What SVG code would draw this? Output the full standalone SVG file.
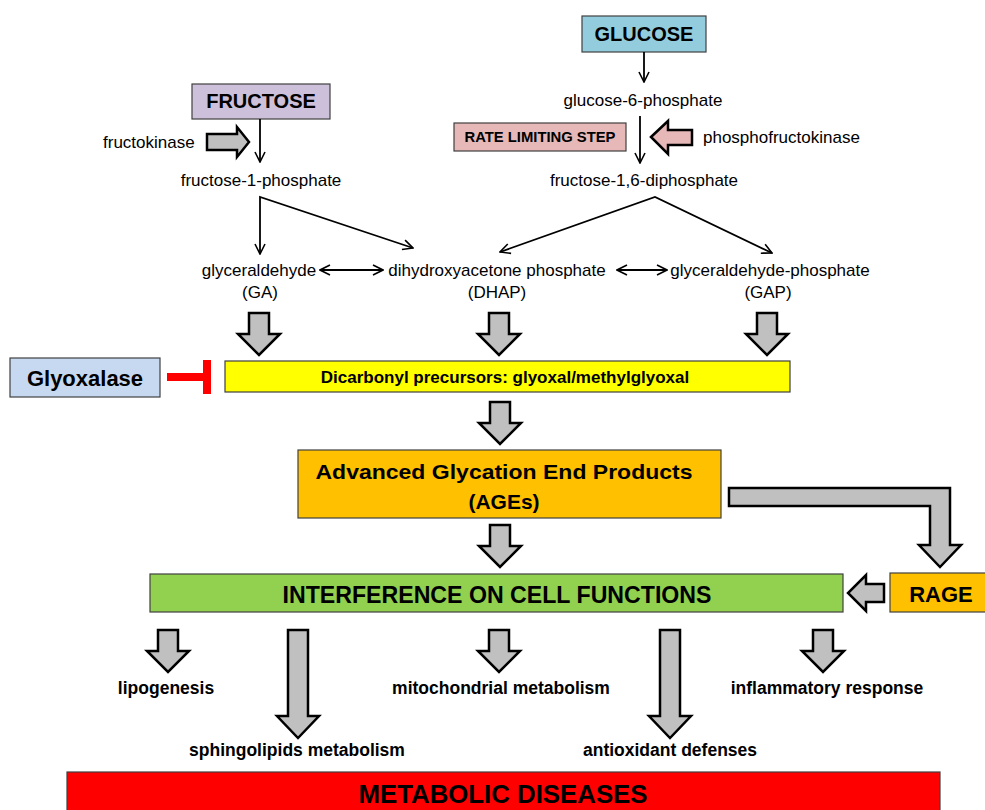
<svg xmlns="http://www.w3.org/2000/svg" width="985" height="810" viewBox="0 0 985 810">
<defs>
<marker id="ah" viewBox="0 0 12 12" refX="11" refY="6" markerWidth="12" markerHeight="12" markerUnits="userSpaceOnUse" orient="auto-start-reverse">
<path d="M1,1 L11,6 L1,11" fill="none" stroke="#000" stroke-width="1.6"/>
</marker>
<style>
.box{stroke:#404040;stroke-width:1.2}
.ln{fill:none;stroke:#000;stroke-width:1.8}
.blk{fill:#c0c0c0;stroke:#000;stroke-width:2.5;stroke-linejoin:miter}
.t{font-family:"Liberation Sans",Arial,sans-serif;fill:#000}
.n{font-size:17px}
.bt{font-weight:bold}
.lab{font-size:17.5px;font-weight:bold}
</style>
</defs>
<rect width="985" height="810" fill="#fff"/>

<g id="glucose">
<rect class="box" x="582" y="16" width="124" height="36" fill="#93cddd"/>
<text class="t bt" x="644" y="41" font-size="20" text-anchor="middle">GLUCOSE</text>
</g>
<g id="g6p"><text class="t n" x="643" y="106" text-anchor="middle">glucose-6-phosphate</text></g>
<g id="rls">
<rect class="box" x="454" y="123" width="172" height="28" fill="#e6b8b7"/>
<text class="t bt" x="540" y="142" font-size="14.8" text-anchor="middle">RATE LIMITING STEP</text>
</g>
<g id="pfk">
<path d="M651,137 L668,121 V130 H692 V145 H668 V154 Z" fill="#e6b8b7" stroke="#000" stroke-width="2.5"/>
<text class="t n" x="703" y="143">phosphofructokinase</text>
</g>
<g id="f16"><text class="t n" x="644" y="186" text-anchor="middle">fructose-1,6-diphosphate</text></g>

<g id="fructose">
<rect class="box" x="192" y="84" width="138" height="35" fill="#ccc0da"/>
<text class="t bt" x="261" y="108" font-size="20" text-anchor="middle">FRUCTOSE</text>
</g>
<g id="fk">
<text class="t n" x="103" y="148">fructokinase</text>
<path d="M207,134 H237 V127 L249,142 L237,157 V150 H207 Z" class="blk"/>
</g>
<g id="f1p"><text class="t n" x="261" y="186" text-anchor="middle">fructose-1-phosphate</text></g>

<g id="ga"><text class="t n" x="259" y="276" text-anchor="middle">glyceraldehyde</text><text class="t n" x="260" y="298" text-anchor="middle">(GA)</text></g>
<g id="dhap"><text class="t n" x="497" y="276" text-anchor="middle">dihydroxyacetone phosphate</text><text class="t n" x="497" y="298" text-anchor="middle">(DHAP)</text></g>
<g id="gap"><text class="t n" x="770" y="276" text-anchor="middle">glyceraldehyde-phosphate</text><text class="t n" x="768" y="298" text-anchor="middle">(GAP)</text></g>

<g id="connectors">
<line class="ln" x1="644" y1="52" x2="644" y2="82" marker-end="url(#ah)"/>
<line class="ln" x1="640" y1="116" x2="640" y2="163" marker-end="url(#ah)"/>
<line class="ln" x1="260" y1="119" x2="260" y2="162" marker-end="url(#ah)"/>
<polyline class="ln" points="260,254 260,197 413,248" marker-start="url(#ah)" marker-end="url(#ah)"/>
<polyline class="ln" points="500,252 655,197 772,253" marker-start="url(#ah)" marker-end="url(#ah)"/>
<line class="ln" x1="320" y1="270" x2="383" y2="270" marker-start="url(#ah)" marker-end="url(#ah)"/>
<line class="ln" x1="617" y1="270" x2="667" y2="270" marker-start="url(#ah)" marker-end="url(#ah)"/>
<path class="blk" d="M249,313 H269 V334 H280 L259,355 L238,334 H249 Z"/>
<path class="blk" d="M489,313 H509 V334 H520 L499,355 L478,334 H489 Z"/>
<path class="blk" d="M757,313 H777 V334 H788 L767,355 L746,334 H757 Z"/>
<path class="blk" d="M490,402 H510 V423 H521 L500,444 L479,423 H490 Z"/>
<path class="blk" d="M490,525 H510 V546 H521 L500,567 L479,546 H490 Z"/>
<path class="blk" d="M729,488 H950 V545 H961 L940,567 L919,545 H930 V506 H729 Z"/>
<path class="blk" d="M884,584 H866 V575 L848,593 L866,611 V602 H884 Z"/>
<path class="blk" d="M158,630 H178 V651 H189 L168,672 L147,651 H158 Z"/>
<path class="blk" d="M288,630 H308 V716 H319 L298,738 L277,716 H288 Z"/>
<path class="blk" d="M489,630 H509 V651 H520 L499,672 L478,651 H489 Z"/>
<path class="blk" d="M660,630 H680 V716 H691 L670,738 L649,716 H660 Z"/>
<path class="blk" d="M813,630 H833 V651 H844 L823,672 L802,651 H813 Z"/>
<path d="M167,377 H207 M207,360 V394" fill="none" stroke="#ff0000" stroke-width="8"/>
</g>

<g id="glyoxalase">
<rect class="box" x="10" y="358" width="150" height="39" fill="#c6d9f1"/>
<text class="t bt" x="85" y="386" font-size="22" text-anchor="middle">Glyoxalase</text>
</g>
<g id="dicarbonyl">
<rect class="box" x="225" y="361" width="565" height="31" fill="#ffff00"/>
<text class="t bt" x="505" y="383" font-size="17" text-anchor="middle">Dicarbonyl precursors: glyoxal/methylglyoxal</text>
</g>
<g id="ages">
<rect class="box" x="298" y="450" width="423" height="68" fill="#ffc000"/>
<text class="t bt" x="504" y="479" font-size="21" text-anchor="middle" textLength="377" lengthAdjust="spacingAndGlyphs">Advanced Glycation End Products</text>
<text class="t bt" x="504" y="509" font-size="21" text-anchor="middle">(AGEs)</text>
</g>
<g id="interference">
<rect class="box" x="150" y="574" width="693" height="38" fill="#92d050"/>
<text class="t bt" x="497" y="603" font-size="23" text-anchor="middle" textLength="429" lengthAdjust="spacingAndGlyphs">INTERFERENCE ON CELL FUNCTIONS</text>
</g>
<g id="rage">
<rect class="box" x="890" y="573" width="100" height="39" fill="#ffc000"/>
<text class="t bt" x="941" y="602" font-size="22" text-anchor="middle">RAGE</text>
</g>
<g id="lipogenesis"><text class="t lab" x="166" y="694" text-anchor="middle">lipogenesis</text></g>
<g id="mito"><text class="t lab" x="501" y="694" text-anchor="middle">mitochondrial metabolism</text></g>
<g id="inflam"><text class="t lab" x="827" y="694" text-anchor="middle">inflammatory response</text></g>
<g id="sphingo"><text class="t lab" x="297" y="756" text-anchor="middle">sphingolipids metabolism</text></g>
<g id="antiox"><text class="t lab" x="670" y="756" text-anchor="middle">antioxidant defenses</text></g>
<g id="metabolic">
<rect class="box" x="67" y="772" width="873" height="45" fill="#ff0000"/>
<text class="t bt" x="503" y="803" font-size="25" text-anchor="middle" textLength="289" lengthAdjust="spacingAndGlyphs">METABOLIC DISEASES</text>
</g>
</svg>
